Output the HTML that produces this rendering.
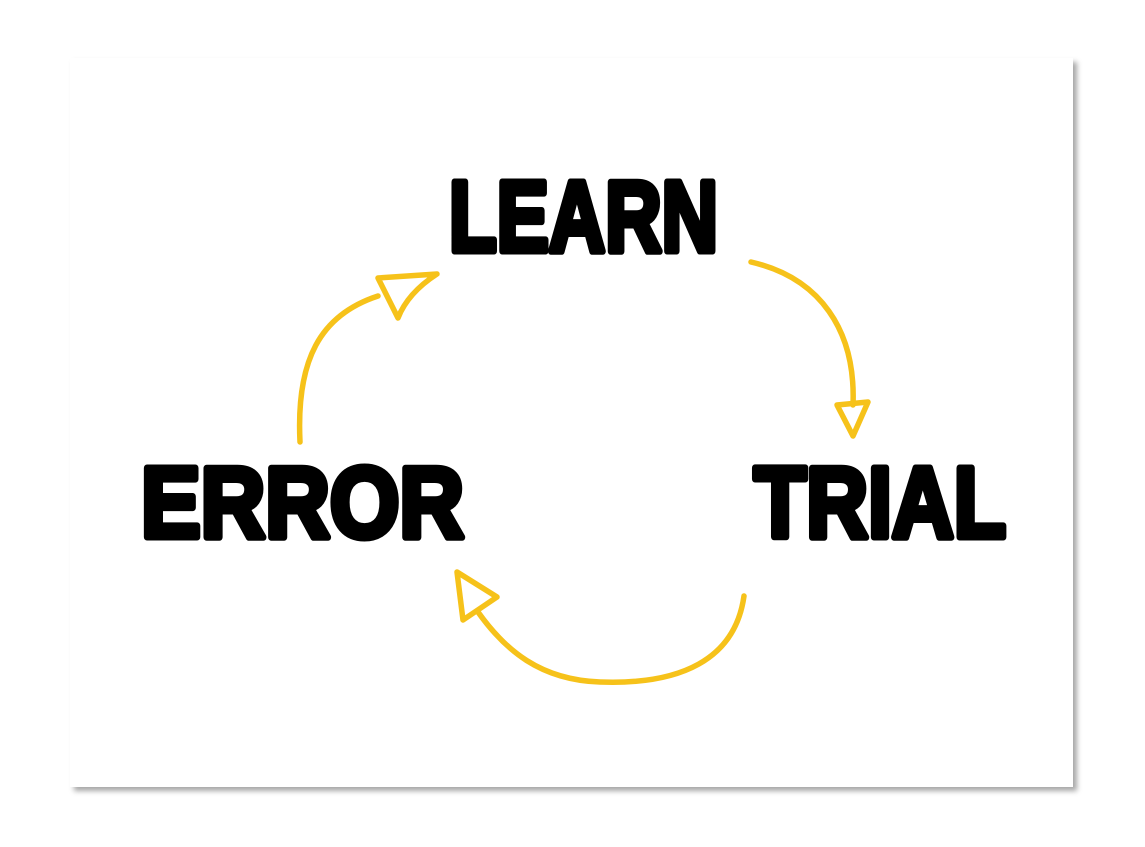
<!DOCTYPE html>
<html><head><style>
html,body{margin:0;padding:0;background:#fff;width:1145px;height:847px;overflow:hidden}
.card{position:absolute;left:70px;top:58px;width:1003px;height:729px;background:#fff;box-shadow:4px 4px 5px rgba(0,0,0,0.35)}
svg{position:absolute;left:0;top:0}
</style></head><body>
<div class="card"></div>
<svg width="1145" height="847" viewBox="0 0 1145 847">
<g font-family="Liberation Sans, sans-serif" font-weight="bold" font-size="100" fill="#000" stroke="#000" stroke-width="7" stroke-linejoin="round">
<text x="449" y="251" textLength="269" lengthAdjust="spacingAndGlyphs">LEARN</text>
<text x="141" y="537" textLength="323" lengthAdjust="spacingAndGlyphs">ERROR</text>
<text x="754" y="537" textLength="252" lengthAdjust="spacingAndGlyphs">TRIAL</text>
</g>
<g fill="none" stroke="#f6c21a" stroke-width="5.5" stroke-linecap="round" stroke-linejoin="round">
<path d="M300 442 C296 360 320 315 378 296"/>
<path d="M378 278 L437 274 C420 285 405 300 398 318 Z"/>
<path d="M751 262 C820 278 856 330 853 405"/>
<path d="M837 405 L868 402 L853 436 Z"/>
<path d="M744 596 C735 660 680 685 600 682 C540 680 505 650 478 612"/>
<path d="M457 572 L497 597 L463 620 Z"/>
</g>
</svg>
</body></html>
